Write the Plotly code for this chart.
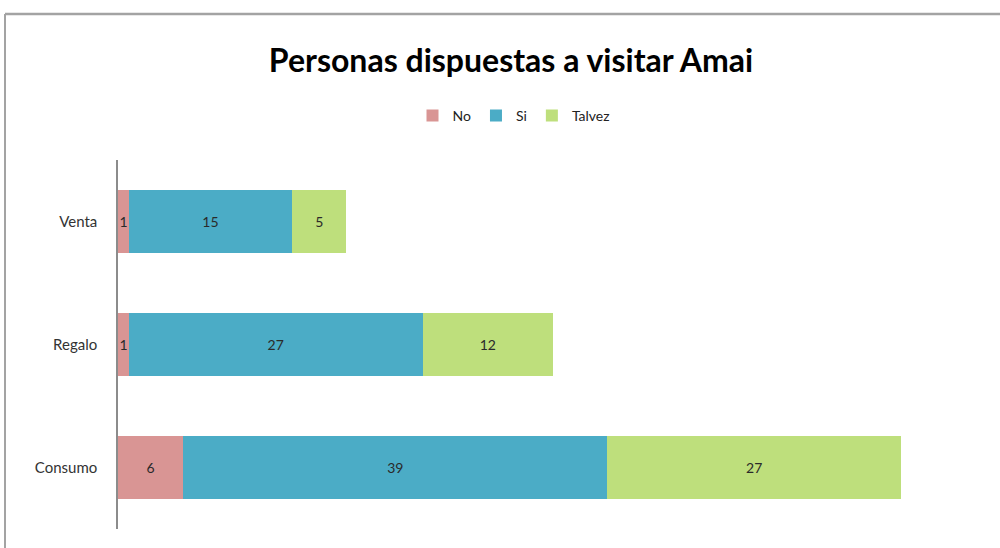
import plotly.graph_objects as go

# Survey answers per purpose of visit
categories = ["Venta", "Regalo", "Consumo"]
no_values = [1, 1, 6]
si_values = [15, 27, 39]
talvez_values = [5, 12, 27]

series = [
    ("No", no_values, "#D99594"),
    ("Si", si_values, "#4BACC6"),
    ("Talvez", talvez_values, "#BEDF7C"),
]

fig = go.Figure()
for name, values, color in series:
    fig.add_trace(go.Bar(
        name=name,
        y=categories,
        x=values,
        orientation="h",
        marker=dict(color=color, line=dict(width=0)),
        text=values,
        texttemplate="%{x}",
        textposition="inside",
        insidetextanchor="middle",
        constraintext="none",
        textfont=dict(family="Lato, sans-serif", size=14, color="#2a2a2a"),
        cliponaxis=False,
    ))

# Plot area: left margin 118 px, top 160 px, 870 px wide, 369 px tall
W, H = 1000, 548
L, T, R, B = 118, 160, 12, 19
pw, ph = W - L - R, H - T - B

def px_x(px):
    return (px - L) / pw

def px_y(py):
    return (H - B - py) / ph

fig.update_layout(
    width=W, height=H,
    margin=dict(l=L, r=R, t=T, b=B),
    paper_bgcolor="white",
    plot_bgcolor="white",
    barmode="stack",
    bargap=0.49,
    title=dict(
        text="<b>Personas dispuestas a visitar Amai</b>",
        font=dict(family="Lato, sans-serif", size=32, color="black"),
        x=px_x(511), xref="paper", xanchor="center",
        y=1 - 61 / H, yref="container", yanchor="middle",
    ),
    legend=dict(
        orientation="h",
        x=px_x(514), xanchor="center",
        y=px_y(116), yanchor="middle",
        font=dict(family="Lato, sans-serif", size=14, color="#222"),
        itemwidth=30,
        traceorder="normal",
    ),
    xaxis=dict(
        range=[0, 80],
        visible=False,
        showgrid=False,
        zeroline=False,
    ),
    yaxis=dict(
        categoryorder="array",
        categoryarray=categories[::-1],
        showline=True,
        linecolor="#8c8c8c",
        linewidth=1.5,
        ticks="",
        ticklabelstandoff=16,
        tickfont=dict(family="Lato, sans-serif", size=15, color="#333"),
        showgrid=False,
        zeroline=False,
    ),
    shapes=[
        # outer chart frame (top and left edges)
        dict(type="line", xref="paper", yref="paper",
             x0=px_x(5), x1=px_x(1005), y0=px_y(14), y1=px_y(14),
             line=dict(color="#a3a3a3", width=2.5)),
        dict(type="line", xref="paper", yref="paper",
             x0=px_x(5), x1=px_x(5), y0=px_y(14), y1=px_y(560),
             line=dict(color="#a3a3a3", width=2)),
    ],
)

fig.write_html("out.html")
